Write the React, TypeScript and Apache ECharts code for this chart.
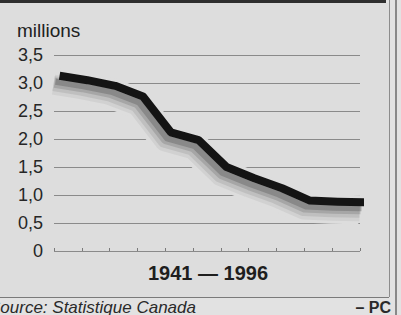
import React, { useEffect, useRef } from "react";
import * as echarts from "echarts";

const years = [1941, 1946, 1951, 1956, 1961, 1966, 1971, 1976, 1981, 1986, 1991, 1996];
const farmPopulation = [3.13, 3.05, 2.95, 2.76, 2.12, 1.98, 1.5, 1.3, 1.12, 0.9, 0.88, 0.87];
const yTicks = [0, 0.5, 1, 1.5, 2, 2.5, 3, 3.5];
const unitLabel = "millions";
const periodLabel = "1941 — 1996";
const sourceLabel = "Source: Statistique Canada";
const creditLabel = "– PC";

const PANEL = "#dddddd";
const FONT = "'Liberation Sans', Arial, Helvetica, sans-serif";

export default function App() {
  const ref = useRef<HTMLDivElement>(null);
  useEffect(() => {
    if (!ref.current) return;
    const chart = echarts.init(ref.current, undefined, { renderer: "svg" });
    const data = years.map((y, i) => [y, farmPopulation[i]]);
    chart.setOption({
      animation: false,
      backgroundColor: "#e2e2e2",
      grid: { left: 54, right: 41, top: 55, bottom: 64, containLabel: false },
      xAxis: {
        type: "value",
        min: 1940,
        max: 1995,
        interval: 5,
        axisLine: { show: false },
        axisTick: { show: true, inside: true, length: 3, lineStyle: { color: "#7a7a7a", width: 1 } },
        axisLabel: { show: false },
        splitLine: { show: false },
      },
      yAxis: {
        type: "value",
        min: yTicks[0],
        max: yTicks[yTicks.length - 1],
        interval: 0.5,
        axisLine: { show: false },
        axisTick: { show: false },
        axisLabel: {
          margin: 11,
          fontSize: 18,
          fontFamily: FONT,
          color: "#262626",
          formatter: (v: number) => (v === 0 ? "0" : v.toFixed(1).replace(".", ",")),
        },
        splitLine: { lineStyle: { color: "#8a8a8a", width: 1 } },
      },
      graphic: [
        { type: "rect", z: -10, shape: { x: 0, y: 3, width: 389, height: 294 }, style: { fill: PANEL } },
        { type: "rect", z: 10, shape: { x: 0, y: 0, width: 386, height: 3 }, style: { fill: "#2e2e2e" } },
        { type: "line", z: 10, shape: { x1: 389.5, y1: 0, x2: 389.5, y2: 297 }, style: { stroke: "#8c8c8c", lineWidth: 1 } },
        { type: "line", z: 10, shape: { x1: 396, y1: 0, x2: 396, y2: 315 }, style: { stroke: "#6a6a6a", lineWidth: 1.5 } },
        { type: "line", z: 10, shape: { x1: 0, y1: 297.5, x2: 389, y2: 297.5 }, style: { stroke: "#7a7a7a", lineWidth: 1 } },
        {
          type: "text", z: 10, x: 17, y: 30,
          style: { text: unitLabel, font: `19px ${FONT}`, fill: "#222", textVerticalAlign: "middle" },
        },
        {
          type: "text", z: 10, x: 208, y: 273,
          style: { text: periodLabel, font: `bold 20px ${FONT}`, fill: "#1e1e1e", textAlign: "center", textVerticalAlign: "middle" },
        },
        {
          type: "text", z: 10, x: -11, y: 307,
          style: { text: sourceLabel, font: `italic 17px ${FONT}`, fill: "#2a2a2a", textVerticalAlign: "middle" },
        },
        {
          type: "text", z: 10, x: 391, y: 307,
          style: { text: creditLabel, font: `bold 16px ${FONT}`, fill: "#2a2a2a", textAlign: "right", textVerticalAlign: "middle" },
        },
      ],
      series: [
        {
          type: "custom",
          data,
          silent: true,
          z: 1,
          renderItem: (params: any, api: any) => {
            if (params.dataIndex !== 0) return null;
            const pts = years.map((y, i) => api.coord([y, farmPopulation[i]]));
            const shift = (dx: number, dy: number) => pts.map((p: number[]) => [p[0] + dx, p[1] + dy]);
            const layer = (dx: number, dy: number, w: number, c: string) => ({
              type: "polyline",
              shape: { points: shift(dx, dy) },
              style: { stroke: c, lineWidth: w, fill: null, lineJoin: "round", lineCap: "butt" },
            });
            return {
              type: "group",
              children: [
                layer(-7, 9, 26, PANEL),
                layer(0, 0, 14, PANEL),
                layer(-6, 9, 20, "rgba(120,120,120,0.12)"),
                layer(-6, 8, 15, "rgba(110,110,110,0.18)"),
                layer(-5, 7, 10, "rgba(90,90,90,0.25)"),
                layer(-4, 6, 6, "rgba(70,70,70,0.3)"),
              ],
            };
          },
        },
        {
          type: "line",
          data,
          clip: false,
          silent: true,
          symbol: "none",
          z: 3,
          lineStyle: { width: 8, color: "#141414", cap: "butt", join: "round" },
        },
      ],
    });
    return () => chart.dispose();
  }, []);
  return <div ref={ref} style={{ position: "fixed", left: 0, top: 0, width: 401, height: 315 }} />;
}
